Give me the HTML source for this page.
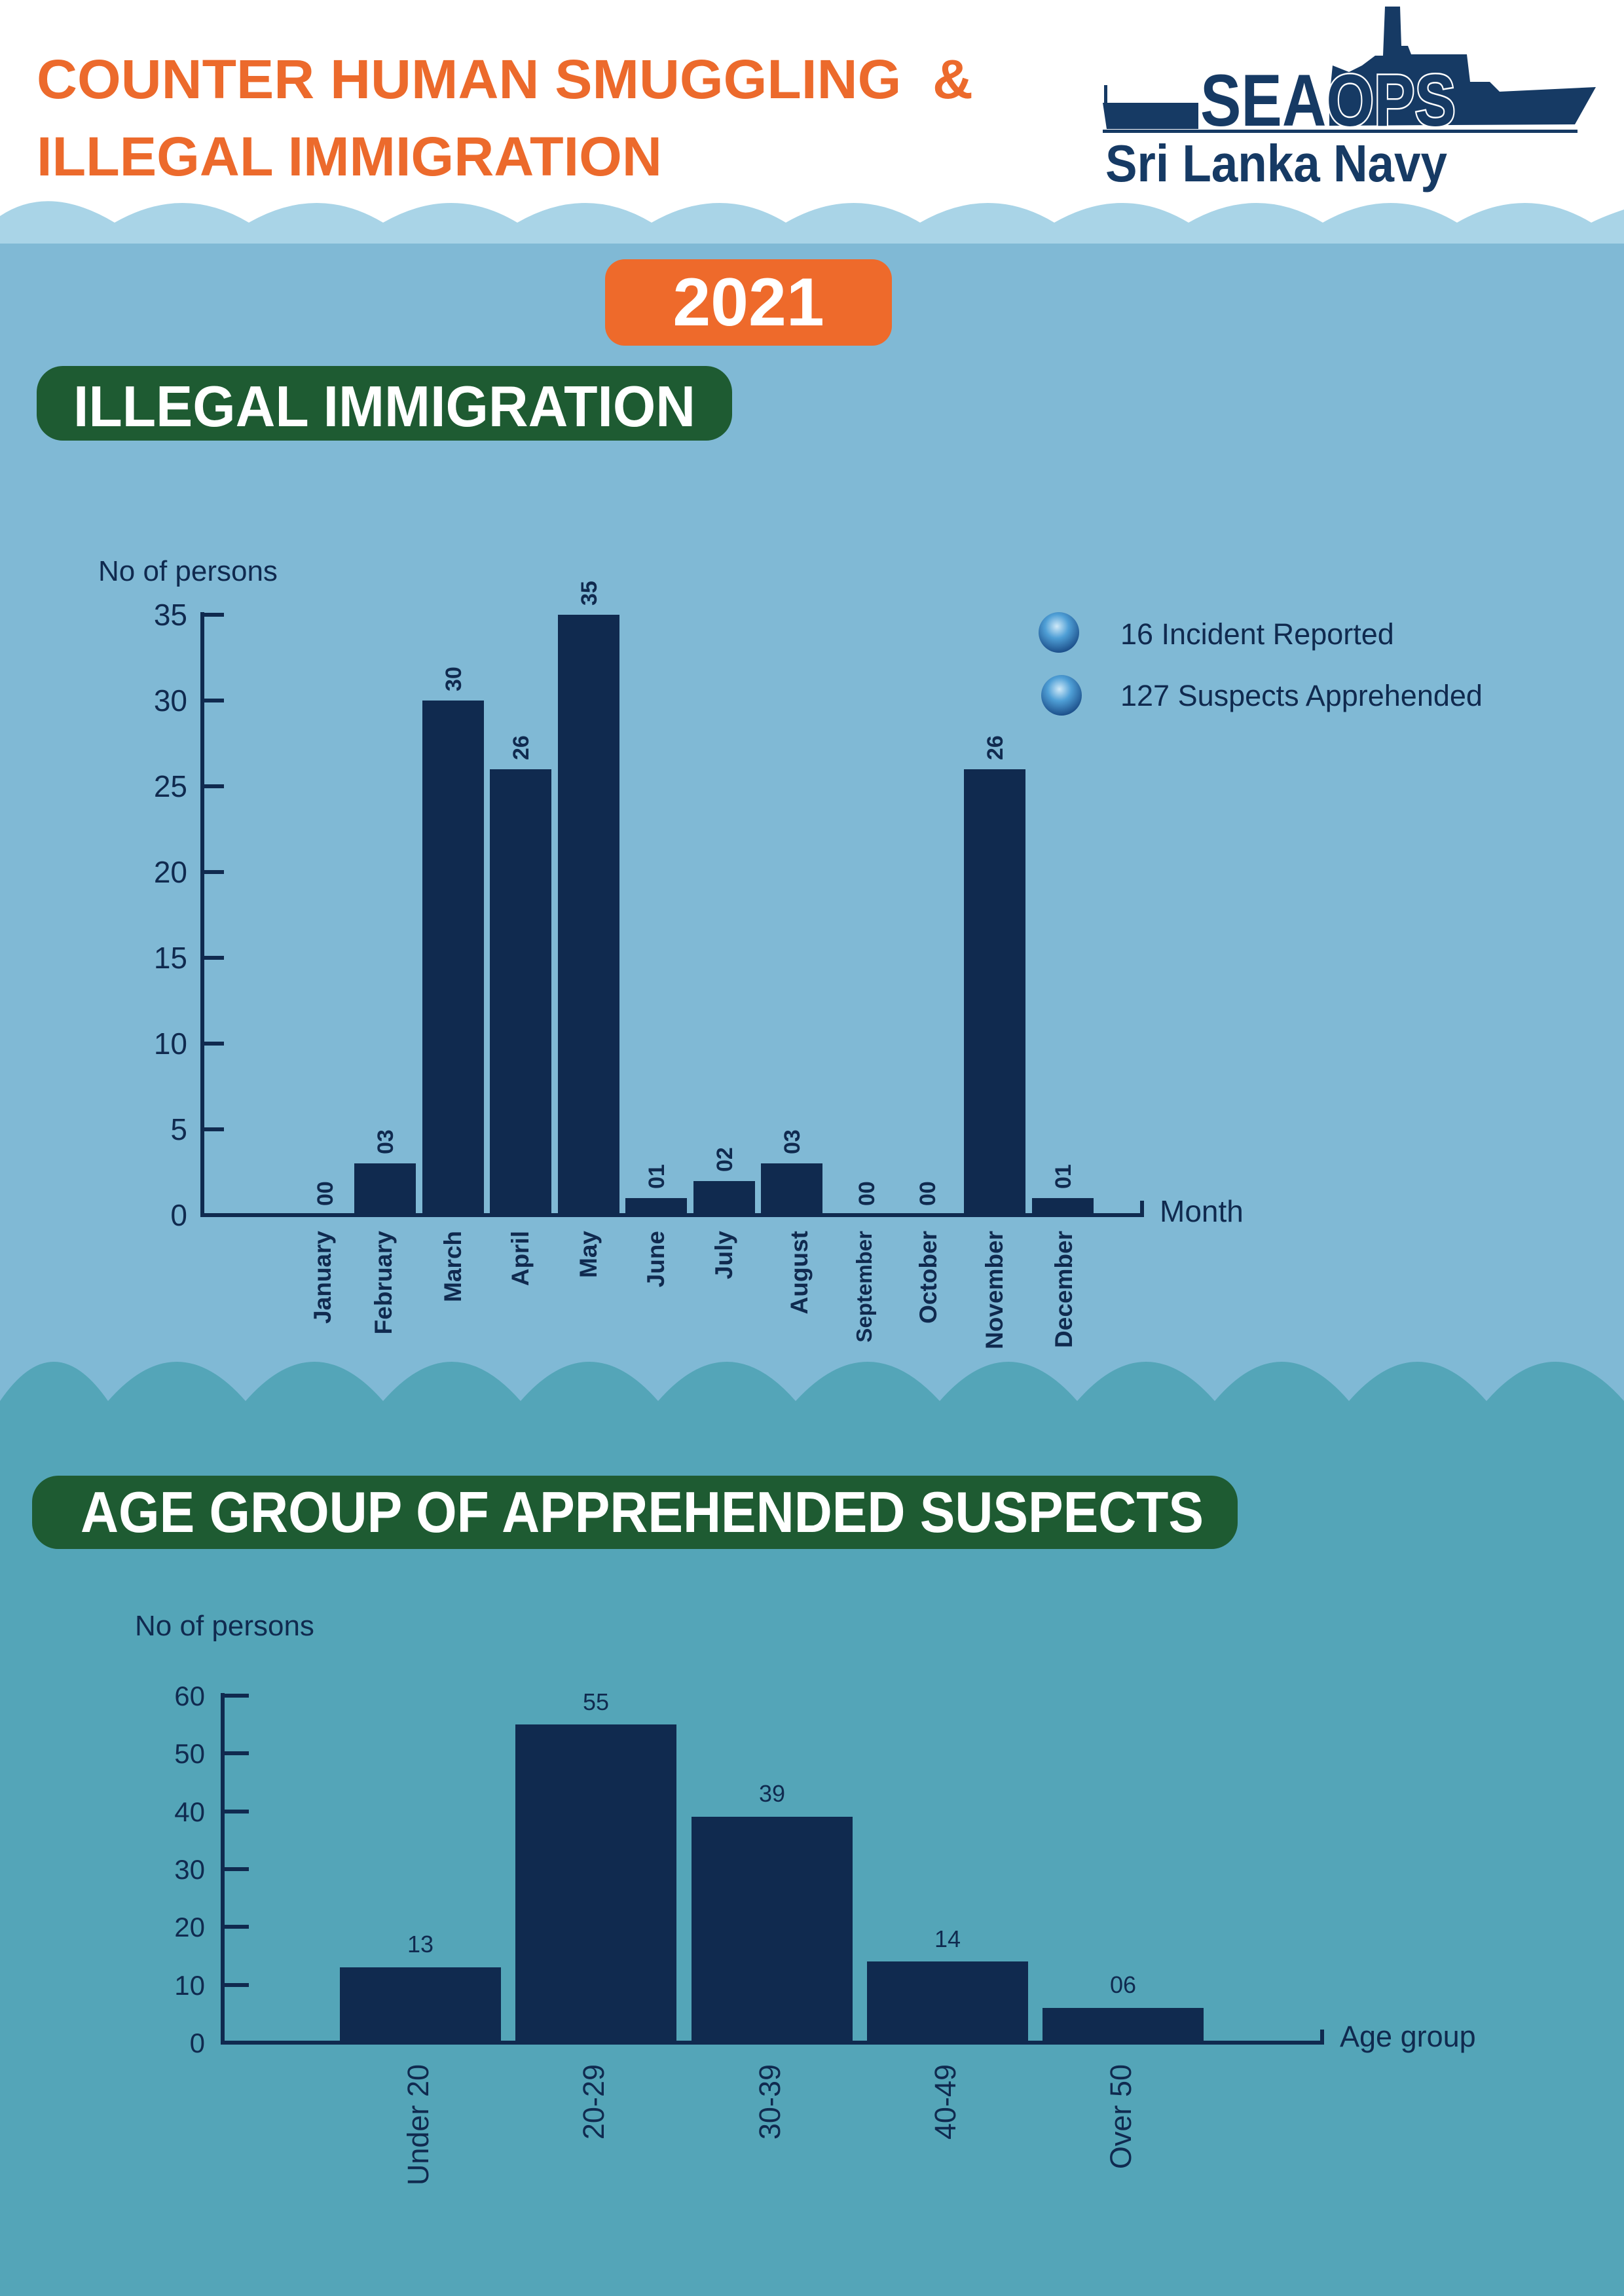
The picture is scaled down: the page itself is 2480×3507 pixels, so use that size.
<!DOCTYPE html>
<html><head><meta charset="utf-8"><style>
html,body{margin:0;padding:0;background:#fff;}
svg{display:block;}
text{font-family:"Liberation Sans",sans-serif;}
</style></head><body>
<svg width="2480" height="3507" viewBox="0 0 2480 3507" xmlns="http://www.w3.org/2000/svg">
<defs>
<radialGradient id="ball" cx="45%" cy="35%" r="65%">
<stop offset="0" stop-color="#cfe9f8"/><stop offset="0.45" stop-color="#4f9fd6"/><stop offset="1" stop-color="#1c4f8a"/>
</radialGradient>
</defs>
<!-- backgrounds -->
<rect x="0" y="0" width="2480" height="3507" fill="#80b9d5"/>
<rect x="0" y="0" width="2480" height="372" fill="#a9d4e7"/>
<path d="M0 0 H2480 V320 Q2450 330 2430 340 Q2330 280 2225 340 Q2125 280 2020 340 Q1920 280 1815 340 Q1715 280 1610 340 Q1510 280 1405 340 Q1305 280 1200 340 Q1100 280 995 340 Q895 280 790 340 Q690 280 585 340 Q485 280 380 340 Q280 280 175 340 Q75 280 0 330 Z" fill="#ffffff"/>
<!-- teal lower section with arches -->
<path d="M0 2140 Q82 2020 165 2140 Q270 2020 375 2140 Q480 2020 585 2140 Q690 2020 795 2140 Q900 2020 1005 2140 Q1110 2020 1215 2140 Q1325 2020 1435 2140 Q1540 2020 1645 2140 Q1750 2020 1855 2140 Q1957 2020 2060 2140 Q2165 2020 2270 2140 Q2375 2020 2480 2140 V3507 H0 Z" fill="#54a5b8"/>

<!-- title -->
<text x="56" y="150" font-size="84" font-weight="bold" fill="#ec6a2c" textLength="1430" lengthAdjust="spacingAndGlyphs">COUNTER HUMAN SMUGGLING&#160;&#160;&amp;</text>
<text x="56" y="268" font-size="84" font-weight="bold" fill="#ec6a2c" textLength="955" lengthAdjust="spacingAndGlyphs">ILLEGAL IMMIGRATION</text>

<!-- logo -->
<g fill="#163a64">
<path d="M1684 157 L1830 157 L1830 197 L1690 197 Z"/>
<rect x="1686" y="130" width="5" height="30"/>
<path d="M2030 150 L2035 100 L2060 110 L2080 100 L2100 85 L2112 85 L2115 10 L2138 10 L2140 70 L2150 70 L2155 83 L2240 83 L2245 125 L2275 125 L2290 140 L2437 133 L2405 190 L2030 192 Z"/>
<rect x="1684" y="198" width="725" height="5"/>
</g>
<text x="1833" y="192" font-size="112" font-weight="bold" fill="#163a64" stroke="#ffffff" stroke-width="5" paint-order="stroke" textLength="390" lengthAdjust="spacingAndGlyphs">SEAOPS</text>
<text x="1688" y="277" font-size="80" font-weight="bold" fill="#163a64" textLength="522" lengthAdjust="spacingAndGlyphs">Sri Lanka Navy</text>

<!-- 2021 pill -->
<rect x="924" y="396" width="438" height="132" rx="30" fill="#ee6a2b"/>
<text x="1143" y="497" font-size="104" font-weight="bold" fill="#fff" text-anchor="middle">2021</text>

<!-- green pill 1 -->
<rect x="56" y="559" width="1062" height="114" rx="40" fill="#1e5b32"/>
<text x="112" y="651" font-size="88" font-weight="bold" fill="#fff" textLength="950" lengthAdjust="spacingAndGlyphs">ILLEGAL IMMIGRATION</text>

<!-- chart 1 -->
<text x="150" y="887" font-size="44" fill="#102a4f">No of persons</text>
<g stroke="#102a4f" stroke-width="6">
<line x1="309" y1="935" x2="309" y2="1859"/>
<line x1="306" y1="1856" x2="1747" y2="1856"/>
<line x1="1744" y1="1834" x2="1744" y2="1859"/>
<line x1="309" y1="939" x2="342" y2="939"/>
<line x1="309" y1="1070" x2="342" y2="1070"/>
<line x1="309" y1="1201" x2="342" y2="1201"/>
<line x1="309" y1="1332" x2="342" y2="1332"/>
<line x1="309" y1="1463" x2="342" y2="1463"/>
<line x1="309" y1="1594" x2="342" y2="1594"/>
<line x1="309" y1="1725" x2="342" y2="1725"/>
</g>
<g font-size="46" fill="#102a4f" text-anchor="end">
<text x="286" y="955">35</text><text x="286" y="1086">30</text><text x="286" y="1217">25</text><text x="286" y="1348">20</text><text x="286" y="1479">15</text><text x="286" y="1610">10</text><text x="286" y="1741">5</text><text x="286" y="1872">0</text>
</g>
<text x="1771" y="1866" font-size="46" fill="#102a4f">Month</text>
<g fill="#102a4f">
<rect x="541" y="1777" width="94" height="79"/>
<rect x="645" y="1070" width="94" height="786"/>
<rect x="748" y="1175" width="94" height="681"/>
<rect x="852" y="939" width="94" height="917"/>
<rect x="955" y="1830" width="94" height="26"/>
<rect x="1059" y="1804" width="94" height="52"/>
<rect x="1162" y="1777" width="94" height="79"/>
<rect x="1472" y="1175" width="94" height="681"/>
<rect x="1576" y="1830" width="94" height="26"/>
</g>
<g font-size="34" font-weight="bold" fill="#102a4f">
<text transform="translate(508,1842) rotate(-90)">00</text>
<text transform="translate(600,1763) rotate(-90)">03</text>
<text transform="translate(704,1056) rotate(-90)">30</text>
<text transform="translate(807,1161) rotate(-90)">26</text>
<text transform="translate(911,925) rotate(-90)">35</text>
<text transform="translate(1014,1816) rotate(-90)">01</text>
<text transform="translate(1118,1790) rotate(-90)">02</text>
<text transform="translate(1221,1763) rotate(-90)">03</text>
<text transform="translate(1335,1842) rotate(-90)">00</text>
<text transform="translate(1428,1842) rotate(-90)">00</text>
<text transform="translate(1531,1161) rotate(-90)">26</text>
<text transform="translate(1635,1816) rotate(-90)">01</text>
</g>
<g font-size="37" font-weight="bold" fill="#102a4f" text-anchor="end">
<text transform="translate(505,1880) rotate(-90)">January</text>
<text transform="translate(598,1880) rotate(-90)">February</text>
<text transform="translate(704,1880) rotate(-90)">March</text>
<text transform="translate(807,1880) rotate(-90)">April</text>
<text transform="translate(911,1880) rotate(-90)">May</text>
<text transform="translate(1014,1880) rotate(-90)">June</text>
<text transform="translate(1118,1880) rotate(-90)">July</text>
<text transform="translate(1233,1880) rotate(-90)">August</text>
<text transform="translate(1331,1880) rotate(-90)" font-size="33">September</text>
<text transform="translate(1430,1880) rotate(-90)">October</text>
<text transform="translate(1531,1880) rotate(-90)">November</text>
<text transform="translate(1637,1880) rotate(-90)">December</text>
</g>
<!-- legend -->
<circle cx="1617" cy="966" r="31" fill="url(#ball)"/>
<circle cx="1621" cy="1062" r="31" fill="url(#ball)"/>
<text x="1711" y="984" font-size="45" fill="#102a4f">16 Incident Reported</text>
<text x="1711" y="1078" font-size="45" fill="#102a4f">127 Suspects Apprehended</text>

<!-- green pill 2 -->
<rect x="49" y="2254" width="1841" height="112" rx="40" fill="#1e5b32"/>
<text x="123" y="2340" font-size="88" font-weight="bold" fill="#fff" textLength="1715" lengthAdjust="spacingAndGlyphs">AGE GROUP OF APPREHENDED SUSPECTS</text>

<!-- chart 2 -->
<text x="206" y="2498" font-size="44" fill="#102a4f">No of persons</text>
<g stroke="#102a4f" stroke-width="6">
<line x1="340" y1="2586" x2="340" y2="3123"/>
<line x1="337" y1="3120" x2="2022" y2="3120"/>
<line x1="2019" y1="3100" x2="2019" y2="3123"/>
<line x1="340" y1="2590" x2="380" y2="2590"/>
<line x1="340" y1="2678" x2="380" y2="2678"/>
<line x1="340" y1="2767" x2="380" y2="2767"/>
<line x1="340" y1="2855" x2="380" y2="2855"/>
<line x1="340" y1="2943" x2="380" y2="2943"/>
<line x1="340" y1="3032" x2="380" y2="3032"/>
</g>
<g font-size="42" fill="#102a4f" text-anchor="end">
<text x="313" y="2605">60</text><text x="313" y="2693">50</text><text x="313" y="2782">40</text><text x="313" y="2870">30</text><text x="313" y="2958">20</text><text x="313" y="3047">10</text><text x="313" y="3135">0</text>
</g>
<text x="2046" y="3126" font-size="45" fill="#102a4f">Age group</text>
<g fill="#102a4f">
<rect x="519" y="3005" width="246" height="115"/>
<rect x="787" y="2634" width="246" height="486"/>
<rect x="1056" y="2775" width="246" height="345"/>
<rect x="1324" y="2996" width="246" height="124"/>
<rect x="1592" y="3067" width="246" height="53"/>
</g>
<g font-size="36" fill="#102a4f" text-anchor="middle">
<text x="642" y="2982">13</text><text x="910" y="2612">55</text><text x="1179" y="2752">39</text><text x="1447" y="2974">14</text><text x="1715" y="3044">06</text>
</g>
<g font-size="45" fill="#102a4f" text-anchor="end">
<text transform="translate(654,3153) rotate(-90)">Under 20</text>
<text transform="translate(922,3153) rotate(-90)">20-29</text>
<text transform="translate(1191,3153) rotate(-90)">30-39</text>
<text transform="translate(1459,3153) rotate(-90)">40-49</text>
<text transform="translate(1727,3153) rotate(-90)">Over 50</text>
</g>
</svg>
</body></html>
